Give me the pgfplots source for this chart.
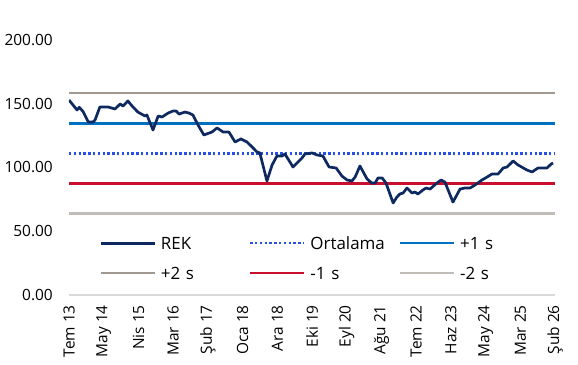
\documentclass[border=0pt]{standalone}
\usepackage{fontspec}
\setmainfont{Open Sans}
\usepackage{pgfplots}
\usepackage{pgfplotstable}
\pgfplotsset{compat=1.18}
\definecolor{rekc}{RGB}{14,40,96}
\definecolor{ortc}{RGB}{40,80,230}
\definecolor{p1c}{RGB}{0,112,192}
\definecolor{p2c}{RGB}{160,152,145}
\definecolor{m1c}{RGB}{200,16,46}
\definecolor{m2c}{RGB}{192,188,184}
\definecolor{xgray}{RGB}{217,217,217}
\pgfplotstableread{
x y
0 152.9
2.5 145.1
3.2 147.2
4.4 143.8
6.0 135.7
7.5 135.7
8.1 137.3
9.6 147.5
12.1 147.5
14.3 145.9
15.9 149.8
16.8 148.2
18.3 152.2
19.6 148.2
21.4 143.5
23.6 140.4
24.2 141.2
26.1 129.4
27.7 140.4
28.9 139.6
30.8 142.7
32.3 144.3
33.3 144.3
34.2 141.9
36.0 143.5
37.3 142.7
38.5 141.2
40.1 133.3
41.9 125.5
44.4 127.8
46.0 131.0
47.9 127.8
49.7 127.8
51.6 120.0
53.4 122.4
55.3 120.0
56.9 116.1
58.4 112.2
59.3 111.4
61.5 89.4
63.1 102.0
64.6 109.0
66.2 109.0
67.1 110.6
69.6 100.4
72.4 107.5
73.3 110.6
75.5 111.4
77.1 109.8
78.9 109.0
80.8 100.4
83.0 99.6
84.8 93.3
86.4 90.2
87.9 89.4
88.9 92.5
90.4 101.2
92.6 91.0
94.1 87.8
95.1 87.8
96.0 91.8
97.3 91.8
98.5 87.8
100.7 72.2
101.9 76.9
102.8 79.2
103.8 80.0
105.0 83.9
106.6 80.0
107.5 80.8
108.4 79.2
110.0 82.4
110.9 83.9
112.2 83.1
114.3 87.8
115.6 90.2
116.8 88.6
119.3 72.9
121.5 83.1
123.0 83.9
124.6 83.9
126.2 86.3
128.3 90.2
129.9 92.5
131.4 94.9
133.3 94.9
134.9 99.6
136.1 100.4
138.0 105.1
139.5 102.0
142.3 98.0
143.9 96.5
145.7 99.6
147.3 99.6
148.5 99.6
149.8 102.7
150.4 103.5
}\rek
\begin{document}
\begin{tikzpicture}
\path[use as bounding box] (-69bp,-70bp) rectangle (509bp,295bp);
\begin{axis}[
  at={(0,0)}, anchor=south west,
  scale only axis, width=486bp, height=255bp,
  xmin=0, xmax=151, ymin=0, ymax=200,
  axis x line*=bottom, axis y line*=left,
  y axis line style={draw=none},
  x axis line style={draw=xgray, line width=2bp, -},
  tick style={draw=none},
  ytick={0,50,100,150,200},
  xtick={0,10.786,21.571,32.357,43.143,53.929,64.714,75.5,86.286,97.071,107.857,118.643,129.429,140.214,151},
  xticklabels={Tem 13,May 14,Nis 15,Mar 16,Şub 17,Oca 18,Ara 18,Eki 19,Eyl 20,Ağu 21,Tem 22,Haz 23,May 24,Mar 25,Şub 26},
  yticklabel style={font=\fontsize{15.5}{18}\selectfont, anchor=east, inner ysep=0pt, inner xsep=16bp},
  xticklabel style={font=\fontsize{15.5}{18}\selectfont, rotate=90, anchor=east, inner ysep=0pt, inner xsep=10bp},
  yticklabel={\pgfmathprintnumber[fixed,fixed zerofill,precision=2,assume math mode=true]{\tick}},
  legend columns=3,
  legend image code/.code={\draw[#1] (0bp,0bp) -- (54bp,0bp);},
  legend style={font=\fontsize{17}{20}\selectfont, draw=none, fill=none, inner sep=0pt,
    at={(0.0617,0.2275)}, anchor=north west,
    column sep=0pt, row sep=18bp,
    nodes={inner xsep=5bp, inner ysep=0pt, text width=80bp, align=left, text height=12bp, text depth=0bp},
    /tikz/every even column/.append style={column sep=3bp}},
  legend cell align=left,
]
\addlegendimage{rekc, line width=2.7bp}
\addlegendentry{REK}
\addlegendimage{ortc, line width=2.4bp, dash pattern=on 2.4bp off 2.4bp}
\addlegendentry{Ortalama}
\addlegendimage{p1c, line width=2.6bp}
\addlegendentry{+1 s}
\addlegendimage{p2c, line width=2.6bp}
\addlegendentry{+2 s}
\addlegendimage{m1c, line width=2.6bp}
\addlegendentry{-1 s}
\addlegendimage{m2c, line width=2.6bp}
\addlegendentry{-2 s}
\addplot[forget plot, m2c, line width=2.6bp] coordinates {(0,63.9) (151,63.9)};
\addplot[forget plot, m1c, line width=2.6bp] coordinates {(0,87.5) (151,87.5)};
\addplot[forget plot, p2c, line width=2.6bp] coordinates {(0,158.3) (151,158.3)};
\addplot[forget plot, p1c, line width=2.6bp] coordinates {(0,134.7) (151,134.7)};
\addplot[forget plot, ortc, line width=2.4bp, dash pattern=on 2.4bp off 2.4bp] coordinates {(0,111.1) (151,111.1)};
\addplot[forget plot, rekc, line width=2.7bp, line join=round] table[x=x,y=y] {\rek};
\end{axis}
\end{tikzpicture}
\end{document}
